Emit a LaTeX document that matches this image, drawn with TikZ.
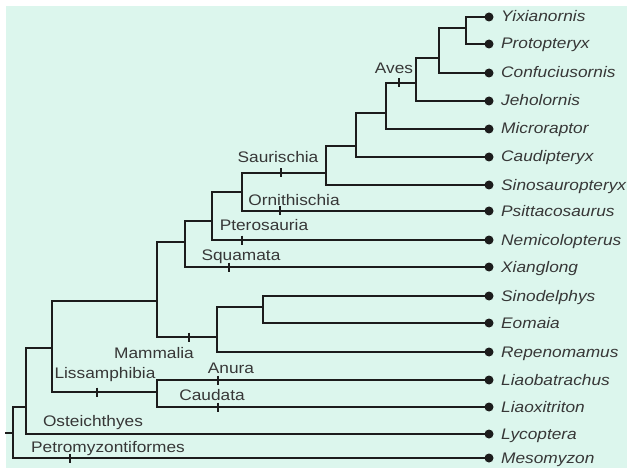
\documentclass[tikz,border=0pt]{standalone}
\usepackage{fontspec}
\setmainfont{Liberation Sans}[FakeStretch=1.13]
\definecolor{mint}{RGB}{220,246,237}
\definecolor{ink}{RGB}{28,28,28}
\definecolor{txt}{RGB}{55,55,55}
\begin{document}
\begin{tikzpicture}[x=1pt,y=-1pt,
  branch/.style={draw=ink, line width=1.8pt, line cap=rect},
  tip/.style={circle, fill=ink, inner sep=0pt, minimum size=9pt},
  taxon/.style={anchor=base west, inner sep=0pt, font=\fontsize{15.3}{18}\selectfont\itshape, text=txt},
  clade/.style={anchor=base, inner sep=0pt, font=\fontsize{15.3}{18}\selectfont, text=txt},
  tickmark/.style={draw=ink, line width=1.3pt}]
\useasboundingbox (0,0) rectangle (627,468);
\fill[white] (0,0) rectangle (627,468);
\fill[mint] (6,6) rectangle (627,468);

% leaves
\foreach \n/\y/\t in {yix/17/Yixianornis, pro/44/Protopteryx, con/73/Confuciusornis,
  jeh/101/Jeholornis, mic/129/Microraptor, cau/157/Caudipteryx, sin/185/Sinosauropteryx,
  psi/211/Psittacosaurus, nem/240/Nemicolopterus, xia/267/Xianglong, sid/296/Sinodelphys,
  eom/323/Eomaia, rep/352/Repenomamus, lib/380/Liaobatrachus, lix/407/Liaoxitriton,
  lyc/434/Lycoptera, mes/458/Mesomyzon}{
  \node[tip] (\n) at (489,\y) {};
  \node[taxon] (\n-l) at (501,\y+5) {\t};
}

% internal nodes
\coordinate (stub) at (6,433);
\coordinate (root) at (13,433);
\coordinate (osteo) at (26,407);
\coordinate (tetra) at (52,348);
\coordinate (liss) at (157,392);
\coordinate (amnio) at (157,301);
\coordinate (mamm) at (217,337);
\coordinate (theria) at (263,307);
\coordinate (sauro) at (185,242);
\coordinate (archo) at (212,221);
\coordinate (dino) at (242,192);
\coordinate (sauri) at (326,173);
\coordinate (cA) at (356,146);
\coordinate (cB) at (386,113);
\coordinate (aves) at (416,83);
\coordinate (cC) at (439,58);
\coordinate (cD) at (466,28);

% branches
\draw[branch] (stub) -- (root);
\foreach \p/\c in {root/mes, root/osteo, osteo/lyc, osteo/tetra, tetra/amnio, tetra/liss,
  liss/lib, liss/lix, amnio/sauro, amnio/mamm, mamm/theria, mamm/rep, theria/sid, theria/eom,
  sauro/archo, sauro/xia, archo/dino, archo/nem, dino/sauri, dino/psi, sauri/cA, sauri/sin,
  cA/cB, cA/cau, cB/aves, cB/mic, aves/cC, aves/jeh, cC/cD, cC/con, cD/yix, cD/pro}{
  \draw[branch] (\p) |- (\c);
}

% ticks
\foreach \x/\y in {399/83, 281/173, 280/211, 242/240, 229/267, 189/337, 97/392, 218/380, 218/407, 70/458}{
  \draw[tickmark] (\x,\y-4.5) -- (\x,\y+4.5);
}

% clade labels
\node[clade] (lAves) at (394,74) {Aves};
\node[clade] (lSaur) at (278,163) {Saurischia};
\node[clade] (lOrn) at (294,205) {Ornithischia};
\node[clade] (lPter) at (264,230) {Pterosauria};
\node[clade] (lSqu) at (241,260) {Squamata};
\node[clade] (lMam) at (154,358) {Mammalia};
\node[clade] (lLis) at (105,378) {Lissamphibia};
\node[clade] (lAnu) at (231,373) {Anura};
\node[clade] (lCau) at (212,400) {Caudata};
\node[clade] (lOst) at (93,426) {Osteichthyes};
\node[clade] (lPet) at (108,452) {Petromyzontiformes};
\end{tikzpicture}
\end{document}
